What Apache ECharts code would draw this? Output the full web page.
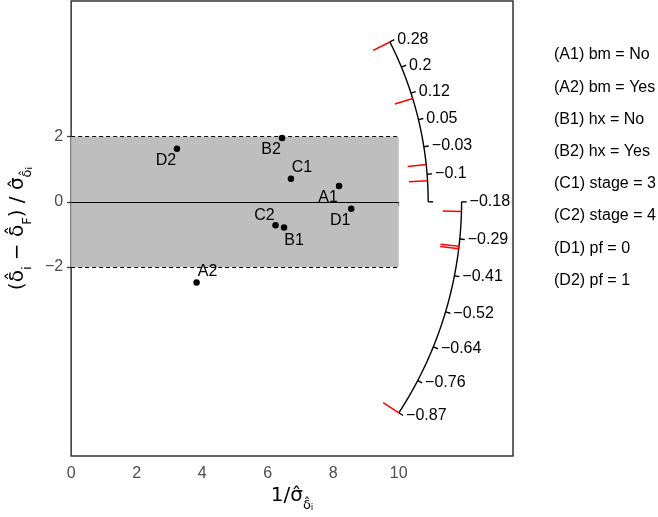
<!DOCTYPE html>
<html>
<head>
<meta charset="utf-8">
<script src="https://cdn.jsdelivr.net/npm/echarts@6/dist/echarts.min.js"></script>
<style>
  html, body { margin: 0; padding: 0; background: #fff; }
  #chart { width: 658px; height: 517px; }
</style>
</head>
<body>
<div id="chart"></div>
<script>
// subgroup estimates: precision 1/se (x) and standardised difference (y)
var pointNames = ["A1", "A2", "B1", "B2", "C1", "C2", "D1", "D2"];
var precision = [8.18, 3.83, 6.50, 6.44, 6.71, 6.24, 8.55, 3.23];
var zValues = [0.49, -2.48, -0.79, 1.96, 0.71, -0.72, -0.21, 1.63];
var labelSide = ["bl", "tr", "br", "bl", "tr", "tl", "bl", "bl"];

var legendText = [
  "(A1) bm = No", "(A2) bm = Yes", "(B1) hx = No", "(B2) hx = Yes",
  "(C1) stage = 3", "(C2) stage = 4", "(D1) pf = 0", "(D2) pf = 1"
];

// radial scale labels (upper arc from 0 deg up, lower arc from 0 deg down)
var upperTicks = ["", "−0.1", "−0.03", "0.05", "0.12", "0.2", "0.28"];
var lowerTicks = ["−0.18", "−0.29", "−0.41", "−0.52", "−0.64", "−0.76", "−0.87"];

var xTicks = [0, 2, 4, 6, 8, 10];
var yTicks = [-2, 0, 2];

var FONT = "Liberation Sans, Arial, Helvetica, sans-serif";
var TFONT = "DejaVu Sans, sans-serif";
var rUpper = 10.9, rLower = 11.92;
var tickLen = 5, redLen = 0.57;

var angles = precision.map(function (x, i) { return Math.atan2(zValues[i], x); });
var thetaMax = Math.max.apply(null, angles);
var thetaMin = Math.min.apply(null, angles);

function fmt(v) { return v < 0 ? "−" + (-v) : String(v); }

function arcItem(params, api) {
  var upper = params.dataIndex === 0;
  var R = upper ? rUpper : rLower;
  var end = upper ? thetaMax : thetaMin;
  var labels = upper ? upperTicks : lowerTicks;
  var pts = [];
  for (var i = 0; i <= 80; i++) {
    var t = end * i / 80;
    pts.push(api.coord([R * Math.cos(t), R * Math.sin(t)]));
  }
  var children = [{
    type: "polyline", shape: { points: pts },
    style: { stroke: "#000", lineWidth: 1.4, fill: null }
  }];
  var n = labels.length - 1;
  labels.forEach(function (lab, k) {
    var t = end * k / n;
    var p = api.coord([R * Math.cos(t), R * Math.sin(t)]);
    var q = [p[0] + Math.cos(t) * tickLen, p[1] - Math.sin(t) * tickLen];
    children.push({
      type: "line", shape: { x1: p[0], y1: p[1], x2: q[0], y2: q[1] },
      style: { stroke: "#000", lineWidth: 1.4 }
    });
    if (lab) {
      children.push({
        type: "text", x: q[0] + 3, y: q[1],
        style: { text: lab, fill: "#000", fontSize: 16, fontFamily: FONT, align: "left", verticalAlign: "middle" }
      });
    }
  });
  return { type: "group", children: children };
}

function redTick(params, api) {
  var x = api.value(0), z = api.value(1);
  var t = Math.atan2(z, x);
  var R = z >= 0 ? rUpper : rLower;
  var p = api.coord([R * Math.cos(t), R * Math.sin(t)]);
  var q = api.coord([(R - redLen) * Math.cos(t), (R - redLen) * Math.sin(t)]);
  return {
    type: "line", shape: { x1: p[0], y1: p[1], x2: q[0], y2: q[1] },
    style: { stroke: "#ff0000", lineWidth: 1.5 }
  };
}

var sideOffset = { bl: [-11, 12], br: [10, 13], tl: [-11, -10], tr: [11, -11] };
var pointData = pointNames.map(function (nm, i) {
  return {
    name: nm,
    value: [precision[i], zValues[i]],
    label: { offset: sideOffset[labelSide[i]] }
  };
});

var titleRich = {
  m: { fontSize: 20, fontFamily: TFONT, color: "#000", verticalAlign: "bottom", padding: [0, 0, 6, 0] },
  s: { fontSize: 13, fontFamily: TFONT, color: "#000", verticalAlign: "bottom" },
  t: { fontSize: 9, fontFamily: TFONT, color: "#000", verticalAlign: "bottom" }
};

var chart = echarts.init(document.getElementById("chart"));
chart.setOption({
  animation: false,
  grid: {
    left: 67, right: 145, top: 1, bottom: 54,
    show: true, borderColor: "#333", borderWidth: 1.5, backgroundColor: "transparent"
  },
  xAxis: {
    type: "value", min: 0, max: 13.49,
    axisLine: { show: false },
    splitLine: { show: false },
    axisTick: { show: true, customValues: xTicks, length: 4, lineStyle: { color: "#333", width: 1.3 } },
    axisLabel: { customValues: xTicks, color: "#4d4d4d", fontSize: 16, fontFamily: FONT, margin: 9, formatter: fmt },
    name: "{m|1/σ\u0302}{s|δ\u0302}{t|i}",
    nameLocation: "middle",
    nameGap: 28,
    nameTextStyle: { rich: titleRich }
  },
  yAxis: {
    type: "value", min: -7.81, max: 6.17,
    axisLine: { show: false },
    splitLine: { show: false },
    axisTick: { show: true, customValues: yTicks, length: 4, lineStyle: { color: "#333", width: 1.3 } },
    axisLabel: { customValues: yTicks, color: "#4d4d4d", fontSize: 16, fontFamily: FONT, margin: 8, formatter: fmt },
    name: "{m|(δ\u0302}{s|i}{m| − δ\u0302}{s|F}{m|) / σ\u0302}{s|δ\u0302}{t|i}",
    nameLocation: "middle",
    nameRotate: 90,
    nameGap: 34,
    nameTextStyle: { rich: titleRich }
  },
  series: [
    {
      type: "scatter",
      data: pointData,
      symbolSize: 6.5,
      itemStyle: { color: "#000", opacity: 1 },
      label: {
        show: true, position: "inside", formatter: "{b}",
        color: "#000", fontSize: 16, fontFamily: FONT
      },
      markArea: {
        silent: true,
        itemStyle: { color: "#bebebe" },
        data: [[{ coord: [0, -2] }, { coord: [10, 2] }]]
      },
      markLine: {
        silent: true, symbol: "none",
        label: { show: false },
        data: [
          [{ coord: [0, 2], lineStyle: { type: [4, 3], color: "#000", width: 1 } }, { coord: [10, 2] }],
          [{ coord: [0, -2], lineStyle: { type: [4, 3], color: "#000", width: 1 } }, { coord: [10, -2] }],
          [{ coord: [0, 0], lineStyle: { type: "solid", color: "#000", width: 1.2 } }, { coord: [10, 0] }]
        ]
      },
      z: 3
    },
    {
      type: "custom",
      renderItem: arcItem,
      data: [[0, 0], [0, 0]],
      silent: true,
      z: 4
    },
    {
      type: "custom",
      renderItem: redTick,
      data: precision.map(function (x, i) { return [x, zValues[i]]; }),
      silent: true,
      z: 5
    }
  ],
  graphic: legendText.map(function (s, i) {
    return {
      type: "text", x: 554, y: 55 + 32.2 * i,
      style: { text: s, fill: "#000", fontSize: 16, fontFamily: FONT, verticalAlign: "middle" }
    };
  })
});
</script>
</body>
</html>
